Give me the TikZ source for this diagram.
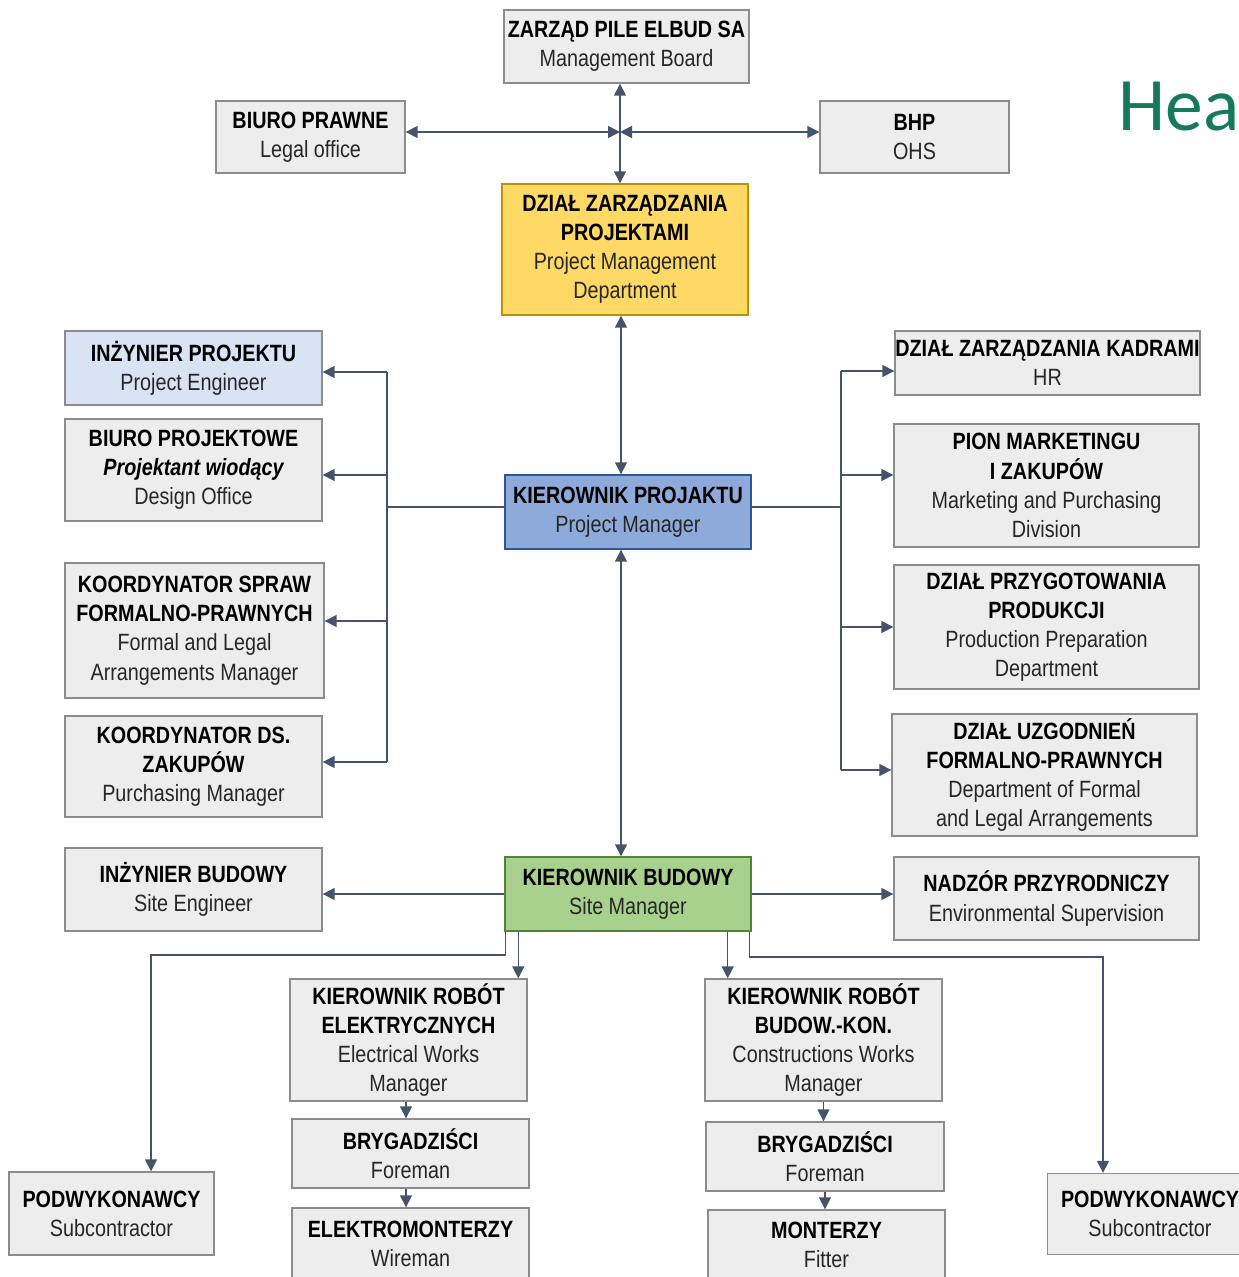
\documentclass[tikz,border=0pt]{standalone}
\usepackage{fontspec}
\setmainfont[FakeStretch=0.84]{Liberation Sans}
\newfontfamily\headfont{Carlito}
\usetikzlibrary{arrows.meta}

\definecolor{boxfill}{HTML}{EDEDED}
\definecolor{boxline}{HTML}{8C8C8C}
\definecolor{linkcol}{HTML}{44546A}
\definecolor{pmdfill}{HTML}{FFD966}
\definecolor{pmdline}{HTML}{BF9000}
\definecolor{pmfill}{HTML}{8EAADB}
\definecolor{pmline}{HTML}{2F5597}
\definecolor{smfill}{HTML}{A9D18E}
\definecolor{smline}{HTML}{548235}
\definecolor{engfill}{HTML}{DAE3F3}
\definecolor{headcol}{RGB}{22,121,92}
\definecolor{subtext}{HTML}{262626}

\newcommand{\hd}[1]{\textbf{\color{black}#1}}

\tikzset{
  box/.style={draw=boxline, fill=boxfill, line width=0.8pt, align=center,
    inner sep=0pt, text=subtext, font=\fontsize{13.4}{16.6}\selectfont},
  link/.style={draw=linkcol, line width=0.85pt},
  arr/.style={link, -{Triangle[length=0.24cm,width=0.24cm]}},
  dbl/.style={link, {Triangle[length=0.24cm,width=0.24cm]}-{Triangle[length=0.24cm,width=0.24cm]}}
}

\begin{document}
\begin{tikzpicture}[x=0.02cm, y=-0.02cm]
  \useasboundingbox (0,0) rectangle (1238,1277);

  % top level
  \node[box, minimum width=4.9cm, minimum height=1.46cm] (board) at (626.5,46.5)
    {\hd{ZARZĄD PILE ELBUD SA}\\Management Board};
  \node[box, minimum width=3.78cm, minimum height=1.44cm] (legal) at (310.5,137)
    {\hd{BIURO PRAWNE}\\Legal office};
  \node[box, minimum width=3.78cm, minimum height=1.44cm] (bhp) at (914.5,137)
    {\hd{BHP}\\OHS};
  \node[box, fill=pmdfill, draw=pmdline, minimum width=4.92cm, minimum height=2.62cm] (pmd) at (625,249.5)
    {\hd{DZIAŁ ZARZĄDZANIA}\\\hd{PROJEKTAMI}\\Project Management\\Department};
  \node[anchor=base west, text=headcol, font=\headfont\fontsize{43}{50}\selectfont, inner sep=0pt] (hea) at (1118,131) {Hea};

  % project manager level
  \node[box, fill=pmfill, draw=pmline, minimum width=4.92cm, minimum height=1.48cm] (pm) at (628,512)
    {\hd{KIEROWNIK PROJAKTU}\\Project Manager};

  % left column
  \node[box, fill=engfill, minimum width=5.14cm, minimum height=1.48cm] (inzproj) at (193.5,368)
    {\hd{INŻYNIER PROJEKTU}\\Project Engineer};
  \node[box, minimum width=5.14cm, minimum height=2.04cm] (bproj) at (193.5,470)
    {\hd{BIURO PROJEKTOWE}\\\hd{\itshape Projektant wiodący}\\Design Office};
  \node[box, minimum width=5.18cm, minimum height=2.7cm] (kspraw) at (194.5,630.5)
    {\hd{KOORDYNATOR SPRAW}\\\hd{FORMALNO-PRAWNYCH}\\Formal and Legal\\Arrangements Manager};
  \node[box, minimum width=5.14cm, minimum height=2.02cm] (kzak) at (193.5,766.5)
    {\hd{KOORDYNATOR DS.}\\\hd{ZAKUPÓW}\\Purchasing Manager};

  % right column
  \node[box, minimum width=6.1cm, minimum height=1.28cm] (hr) at (1047.5,363)
    {\hd{DZIAŁ ZARZĄDZANIA KADRAMI}\\HR};
  \node[box, minimum width=6.1cm, minimum height=2.46cm] (mark) at (1046.5,485.5)
    {\hd{PION MARKETINGU}\\\hd{I ZAKUPÓW}\\Marketing and Purchasing\\Division};
  \node[box, minimum width=6.1cm, minimum height=2.48cm] (prod) at (1046.5,627)
    {\hd{DZIAŁ PRZYGOTOWANIA}\\\hd{PRODUKCJI}\\Production Preparation\\Department};
  \node[box, minimum width=6.1cm, minimum height=2.44cm] (uzg) at (1044.5,775)
    {\hd{DZIAŁ UZGODNIEŃ}\\\hd{FORMALNO-PRAWNYCH}\\Department of Formal\\and Legal Arrangements};

  % site level
  \node[box, fill=smfill, draw=smline, minimum width=4.92cm, minimum height=1.48cm] (sm) at (628,894)
    {\hd{KIEROWNIK BUDOWY}\\Site Manager};
  \node[box, minimum width=5.14cm, minimum height=1.66cm] (inzbud) at (193.5,889.5)
    {\hd{INŻYNIER BUDOWY}\\Site Engineer};
  \node[box, minimum width=6.1cm, minimum height=1.66cm] (nadzor) at (1046.5,898.5)
    {\hd{NADZÓR PRZYRODNICZY}\\Environmental Supervision};

  % works
  \node[box, minimum width=4.74cm, minimum height=2.44cm] (kre) at (408.5,1040)
    {\hd{KIEROWNIK ROBÓT}\\\hd{ELEKTRYCZNYCH}\\Electrical Works\\Manager};
  \node[box, minimum width=4.74cm, minimum height=2.44cm] (krb) at (823.5,1040)
    {\hd{KIEROWNIK ROBÓT}\\\hd{BUDOW.-KON.}\\Constructions Works\\Manager};
  \node[box, minimum width=4.74cm, minimum height=1.38cm] (bryg1) at (410.5,1153.5)
    {\hd{BRYGADZIŚCI}\\Foreman};
  \node[box, minimum width=4.76cm, minimum height=1.38cm] (bryg2) at (825,1156.5)
    {\hd{BRYGADZIŚCI}\\Foreman};
  \node[box, minimum width=4.74cm, minimum height=1.42cm] (emont) at (410.5,1243.5)
    {\hd{ELEKTROMONTERZY}\\Wireman};
  \node[box, minimum width=4.74cm, minimum height=1.38cm] (mont) at (826.5,1244.5)
    {\hd{MONTERZY}\\Fitter};
  \node[box, minimum width=4.1cm, minimum height=1.66cm] (podwL) at (111.5,1213.5)
    {\hd{PODWYKONAWCY}\\Subcontractor};
  \node[box, minimum width=4.1cm, minimum height=1.62cm] (podwR) at (1150,1214)
    {\hd{PODWYKONAWCY}\\Subcontractor};

  % connectors at the top
  \coordinate (hub) at (620,132);
  \draw[dbl] (hub |- board.south) -- (hub |- pmd.north);
  \draw[dbl] (legal.east |- hub) -- (hub);
  \draw[dbl] (hub) -- (bhp.west |- hub);

  \coordinate (vx) at (621,512);
  \draw[dbl] (vx |- pmd.south) -- (vx |- pm.north);
  \draw[dbl] (vx |- pm.south) -- (vx |- sm.north);

  % left spine
  \coordinate (ls) at (387,507);
  \draw[link] (pm.west |- ls) -- (ls);
  \draw[link] ([yshift=-0.08cm]ls |- inzproj.east) -- ([yshift=0.09cm]ls |- kzak.east);
  \foreach \n/\s in {inzproj/-0.08,bproj/-0.1,kspraw/0.19,kzak/0.09}
    \draw[arr] ([yshift=\s cm]ls |- \n.east) -- ([yshift=\s cm]\n.east);

  % right spine
  \coordinate (rs) at (841,507);
  \draw[link] (pm.east |- rs) -- (rs);
  \draw[link] ([yshift=-0.16cm]rs |- hr.west) -- ([yshift=0.1cm]rs |- uzg.west);
  \foreach \n/\s in {hr/-0.16,mark/0.21,prod/0,uzg/0.1}
    \draw[arr] ([yshift=\s cm]rs |- \n.west) -- ([yshift=\s cm]\n.west);

  % site manager
  \draw[arr] (sm.west) -- (inzbud.east |- sm.west);
  \draw[arr] (sm.east) -- (nadzor.west |- sm.east);
  \coordinate (lc) at (151,955);
  \coordinate (rc) at (1103,957);
  \draw[arr] ([xshift=0.02cm]sm.south west) |- (lc) -- (lc |- podwL.north);
  \draw[arr] ([xshift=-0.04cm]sm.south east) |- (rc) -- (rc |- podwR.north);
  \draw[arr] ([xshift=0.28cm]sm.south west) -- ([xshift=0.28cm]sm.south west |- kre.north);
  \draw[arr] ([xshift=-0.48cm]sm.south east) -- ([xshift=-0.48cm]sm.south east |- krb.north);

  % works chains
  \draw[arr] ([xshift=-0.05cm]kre.south) -- ([xshift=-0.05cm]kre.south |- bryg1.north);
  \draw[arr] ([xshift=-0.09cm]bryg1.south) -- ([xshift=-0.09cm]bryg1.south |- emont.north);
  \draw[arr] (krb.south) -- (krb.south |- bryg2.north);
  \draw[arr] (bryg2.south) -- (bryg2.south |- mont.north);
\end{tikzpicture}
\end{document}
